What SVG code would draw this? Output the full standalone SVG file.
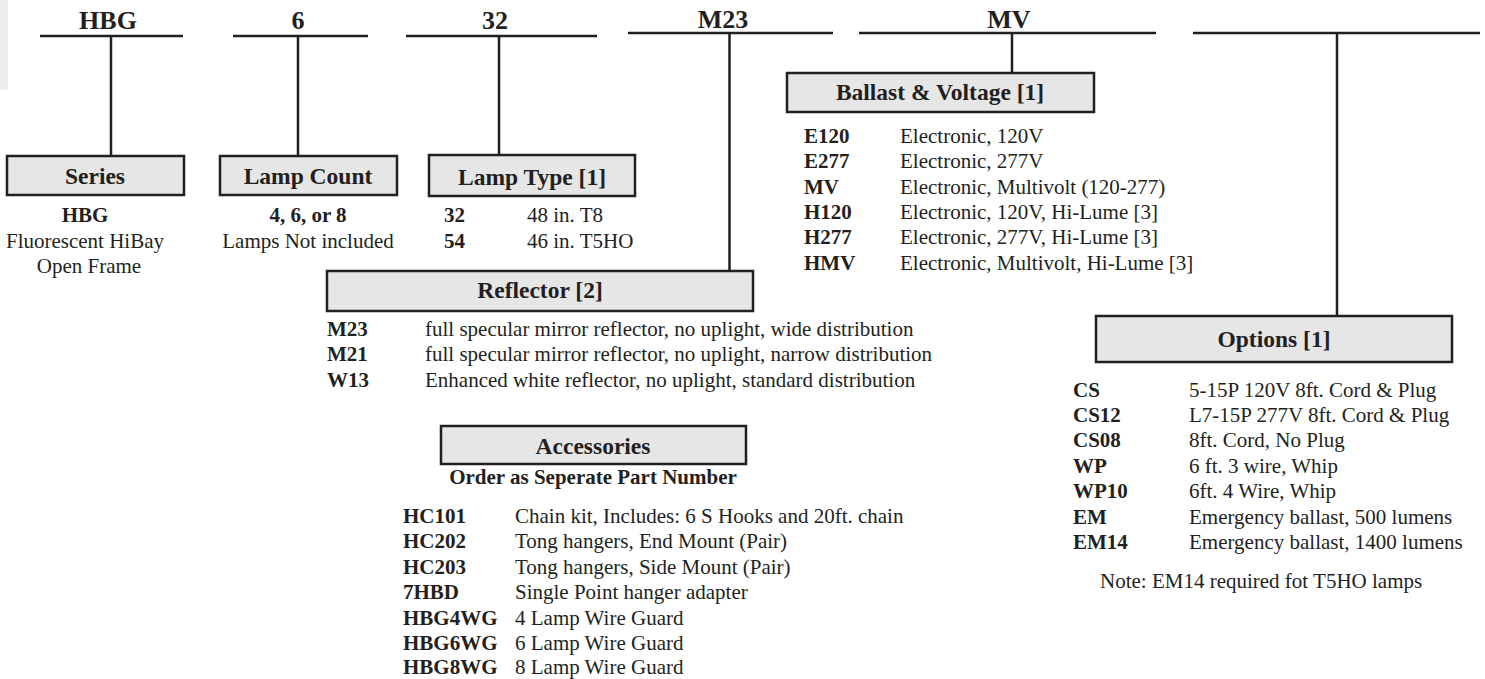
<svg xmlns="http://www.w3.org/2000/svg" width="1485" height="679" viewBox="0 0 1485 679">
<style>
text{font-family:"Liberation Serif","Times New Roman",serif;fill:#231f20}
.top{font-size:26px;font-weight:bold;text-anchor:middle}
.hd{font-size:23.5px;font-weight:bold;text-anchor:middle}
.b{font-size:21px;font-weight:bold}
.r{font-size:21px}
.c{text-anchor:middle}
.box{fill:#e6e6e6;stroke:#231f20;stroke-width:2.5}
.ln{stroke:#231f20;stroke-width:2.5;fill:none}
</style>
<rect x="0" y="0" width="8" height="90" fill="#ececec"/>
<g id="connectors">
<line class="ln" x1="40" y1="36" x2="183" y2="36"/>
<line class="ln" x1="111" y1="36" x2="111" y2="156"/>
<line class="ln" x1="233" y1="36" x2="368" y2="36"/>
<line class="ln" x1="298" y1="36" x2="298" y2="156"/>
<line class="ln" x1="406" y1="36" x2="597" y2="36"/>
<line class="ln" x1="499" y1="36" x2="499" y2="155"/>
<line class="ln" x1="628" y1="33" x2="833" y2="33"/>
<line class="ln" x1="729.5" y1="33" x2="729.5" y2="271"/>
<line class="ln" x1="859" y1="33" x2="1156" y2="33"/>
<line class="ln" x1="1012" y1="33" x2="1012" y2="73"/>
<line class="ln" x1="1193" y1="33" x2="1480" y2="33"/>
<line class="ln" x1="1337" y1="33" x2="1337" y2="316"/>
</g>
<g id="top-labels">
<text class="top" x="108" y="29">HBG</text>
<text class="top" x="298" y="29">6</text>
<text class="top" x="495" y="29">32</text>
<text class="top" x="723" y="28">M23</text>
<text class="top" x="1009" y="28">MV</text>
</g>
<g id="series">
<rect class="box" x="7" y="156" width="177" height="39"/>
<text class="hd" x="95" y="184">Series</text>
<text class="b c" x="85" y="222">HBG</text>
<text class="r c" x="85" y="248">Fluorescent HiBay</text>
<text class="r c" x="89" y="273">Open Frame</text>
</g>
<g id="lamp-count">
<rect class="box" x="220" y="156" width="177" height="39"/>
<text class="hd" x="308" y="184">Lamp Count</text>
<text class="b c" x="308" y="222">4, 6, or 8</text>
<text class="r c" x="308" y="248">Lamps Not included</text>
</g>
<g id="lamp-type">
<rect class="box" x="429" y="155" width="206" height="41"/>
<text class="hd" x="532" y="185">Lamp Type [1]</text>
<text class="b" x="444" y="222">32</text>
<text class="r" x="527" y="222">48 in. T8</text>
<text class="b" x="444" y="248">54</text>
<text class="r" x="527" y="248">46 in. T5HO</text>
</g>
<g id="reflector">
<rect class="box" x="327" y="271" width="426" height="40"/>
<text class="hd" x="540" y="298">Reflector [2]</text>
<text class="b" x="327" y="336">M23</text>
<text class="r" x="425" y="336">full specular mirror reflector, no uplight, wide distribution</text>
<text class="b" x="327" y="361">M21</text>
<text class="r" x="425" y="361">full specular mirror reflector, no uplight, narrow distribution</text>
<text class="b" x="327" y="387">W13</text>
<text class="r" x="425" y="387">Enhanced white reflector, no uplight, standard distribution</text>
</g>
<g id="ballast">
<rect class="box" x="787" y="73" width="307" height="39"/>
<text class="hd" x="940" y="100">Ballast &amp; Voltage [1]</text>
<text class="b" x="804" y="143">E120</text>
<text class="r" x="900" y="143">Electronic, 120V</text>
<text class="b" x="804" y="168">E277</text>
<text class="r" x="900" y="168">Electronic, 277V</text>
<text class="b" x="804" y="193.5">MV</text>
<text class="r" x="900" y="193.5">Electronic, Multivolt (120-277)</text>
<text class="b" x="804" y="219">H120</text>
<text class="r" x="900" y="219">Electronic, 120V, Hi-Lume [3]</text>
<text class="b" x="804" y="244">H277</text>
<text class="r" x="900" y="244">Electronic, 277V, Hi-Lume [3]</text>
<text class="b" x="804" y="270">HMV</text>
<text class="r" x="900" y="270">Electronic, Multivolt, Hi-Lume [3]</text>
</g>
<g id="options">
<rect class="box" x="1096" y="316" width="356" height="46"/>
<text class="hd" x="1274" y="347">Options [1]</text>
<text class="b" x="1073" y="397">CS</text>
<text class="r" x="1189" y="397">5-15P 120V 8ft. Cord &amp; Plug</text>
<text class="b" x="1073" y="422">CS12</text>
<text class="r" x="1189" y="422">L7-15P 277V 8ft. Cord &amp; Plug</text>
<text class="b" x="1073" y="447">CS08</text>
<text class="r" x="1189" y="447">8ft. Cord, No Plug</text>
<text class="b" x="1073" y="473">WP</text>
<text class="r" x="1189" y="473">6 ft. 3 wire, Whip</text>
<text class="b" x="1073" y="498">WP10</text>
<text class="r" x="1189" y="498">6ft. 4 Wire, Whip</text>
<text class="b" x="1073" y="524">EM</text>
<text class="r" x="1189" y="524">Emergency ballast, 500 lumens</text>
<text class="b" x="1073" y="549">EM14</text>
<text class="r" x="1189" y="549">Emergency ballast, 1400 lumens</text>
<text class="r" x="1100" y="588">Note: EM14 required fot T5HO lamps</text>
</g>
<g id="accessories">
<rect class="box" x="441" y="426" width="305" height="38"/>
<text class="hd" x="593" y="454">Accessories</text>
<text class="b c" x="593" y="484">Order as Seperate Part Number</text>
<text class="b" x="403" y="523">HC101</text>
<text class="r" x="515" y="523">Chain kit, Includes: 6 S Hooks and 20ft. chain</text>
<text class="b" x="403" y="548">HC202</text>
<text class="r" x="515" y="548">Tong hangers, End Mount (Pair)</text>
<text class="b" x="403" y="573.5">HC203</text>
<text class="r" x="515" y="573.5">Tong hangers, Side Mount (Pair)</text>
<text class="b" x="403" y="599">7HBD</text>
<text class="r" x="515" y="599">Single Point hanger adapter</text>
<text class="b" x="403" y="624.5">HBG4WG</text>
<text class="r" x="515" y="624.5">4 Lamp Wire Guard</text>
<text class="b" x="403" y="650">HBG6WG</text>
<text class="r" x="515" y="650">6 Lamp Wire Guard</text>
<text class="b" x="403" y="674">HBG8WG</text>
<text class="r" x="515" y="674">8 Lamp Wire Guard</text>
</g>
</svg>
